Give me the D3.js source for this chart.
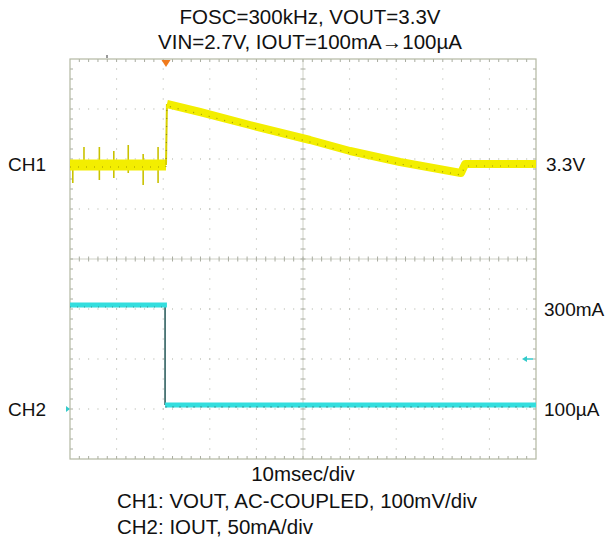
<!DOCTYPE html>
<html><head><meta charset="utf-8">
<script src="https://cdn.jsdelivr.net/npm/d3@7/dist/d3.min.js"></script>
<style>
html,body{margin:0;padding:0;background:#fff;}
svg{display:block;}
text{font-family:"Liberation Sans",Arial,sans-serif;fill:#111;}
</style></head>
<body>
<svg id="c" width="611" height="542"></svg>
<script>
// ---- data ----
const titleLines = ["FOSC=300kHz, VOUT=3.3V", "VIN=2.7V, IOUT=100mA\u2192100\u00B5A"];
const footerLines = ["CH1: VOUT, AC-COUPLED, 100mV/div", "CH2: IOUT, 50mA/div"];
const xAxisLabel = "10msec/div";
// CH1: VOUT (AC-coupled), mV vs time (ms)
const ch1Time = [0, 20.6, 20.8, 27.9, 38.6, 51.5, 60.1, 70.8, 81.5, 83.9, 84.8, 100];
const ch1mV   = [-2, -2, 120, 104, 78, 48, 26, 4, -14, -18, 0, 0];
// switching noise spikes on CH1 before the load step
const spikeTime = [0.6, 3.0, 6.3, 9.4, 12.5, 15.7, 18.9];
const spikeUp   = [0, 34, 34, 26, 38, 20, 34];
const spikeDown = [-38, -12, -32, -28, -18, -42, -38];
// CH2: IOUT, mA vs time (ms)
const ch2Time = [0, 20.4, 20.4, 100];
const ch2mA   = [104, 104, 4, 4];
// right-hand level labels
const ch1Labels = [{label:"3.3V", v:0}];
const ch2Labels = [{label:"300mA", v:100}, {label:"100\u00B5A", v:0}];

// ---- layout ----
const svg = d3.select("#c");
const X0 = 70, X1 = 536, Y0 = 59, Y1 = 459;
const xDivs = 10, yDivs = 8, minor = 5;
const x = d3.scaleLinear().domain([0, 100]).range([X0, X1]);
const divPx = (Y1 - Y0) / yDivs;
const yc = (Y0 + Y1) / 2;
// CH1: 100 mV/div, zero at +1.9 div above centre
const y1 = d3.scaleLinear().domain([0, 100]).range([yc - 1.9 * divPx, yc - 2.9 * divPx]);
// CH2: 50 mA/div, zero at -3 div
const y2 = d3.scaleLinear().domain([0, 50]).range([yc + 3 * divPx, yc + 2 * divPx]);

const g = svg.append("g");
const dxm = (X1 - X0) / xDivs / minor, dym = (Y1 - Y0) / yDivs / minor;
const gridCol = "#a9aca0";

// dotted grid lines
for (let i = 1; i < xDivs; i++) {
  if (i === xDivs / 2) continue;
  const xx = X0 + i * (X1 - X0) / xDivs;
  for (let k = 1; k < yDivs * minor; k++) {
    g.append("rect").attr("x", xx - 0.5).attr("y", Y0 + k * dym - 0.5).attr("width", 1).attr("height", 1).attr("fill", gridCol);
  }
}
for (let j = 1; j < yDivs; j++) {
  if (j === yDivs / 2) continue;
  const yy = Y0 + j * divPx;
  for (let k = 1; k < xDivs * minor; k++) {
    g.append("rect").attr("x", X0 + k * dxm - 0.5).attr("y", yy - 0.5).attr("width", 1).attr("height", 1).attr("fill", gridCol);
  }
}
// centre axes with ticks
const xm = (X0 + X1) / 2;
g.append("line").attr("x1", X0).attr("x2", X1).attr("y1", yc).attr("y2", yc).attr("stroke", "#cfd1c6").attr("stroke-width", 1);
g.append("line").attr("x1", xm).attr("x2", xm).attr("y1", Y0).attr("y2", Y1).attr("stroke", "#cfd1c6").attr("stroke-width", 1);
for (let k = 1; k < xDivs * minor; k++) {
  const xx = X0 + k * dxm;
  g.append("line").attr("x1", xx).attr("x2", xx).attr("y1", yc - 2.5).attr("y2", yc + 2.5).attr("stroke", gridCol);
  g.append("line").attr("x1", xx).attr("x2", xx).attr("y1", Y0).attr("y2", Y0 + 3).attr("stroke", gridCol);
  g.append("line").attr("x1", xx).attr("x2", xx).attr("y1", Y1 - 3).attr("y2", Y1).attr("stroke", gridCol);
}
for (let k = 1; k < yDivs * minor; k++) {
  const yy = Y0 + k * dym;
  g.append("line").attr("x1", xm - 2.5).attr("x2", xm + 2.5).attr("y1", yy).attr("y2", yy).attr("stroke", gridCol);
  g.append("line").attr("x1", X0).attr("x2", X0 + 3).attr("y1", yy).attr("y2", yy).attr("stroke", gridCol);
  g.append("line").attr("x1", X1 - 3).attr("x2", X1).attr("y1", yy).attr("y2", yy).attr("stroke", gridCol);
}
g.append("rect").attr("x", X0).attr("y", Y0).attr("width", X1 - X0).attr("height", Y1 - Y0)
  .attr("fill", "none").attr("stroke", "#b3b8a2").attr("stroke-width", 1.2);

// ---- CH1 trace ----
const ch1 = ch1Time.map((t, i) => [t, ch1mV[i]]);
const line1 = d3.line().x(d => x(d[0])).y(d => y1(d[1]));
spikeTime.forEach((t, i) => {
  g.append("line").attr("x1", x(t)).attr("x2", x(t)).attr("y1", y1(spikeUp[i])).attr("y2", y1(spikeDown[i]))
    .attr("stroke", "#c9c200").attr("stroke-width", 1.6);
});
const pre = ch1.filter(d => d[0] <= 20.6);
const post = ch1.filter(d => d[0] >= 20.8);
g.append("path").attr("d", line1(pre)).attr("fill", "none").attr("stroke", "#f3ee00").attr("stroke-width", 11);
g.append("path").attr("d", line1(ch1.slice(1, 3))).attr("fill", "none").attr("stroke", "#d8d000").attr("stroke-width", 2);
g.append("path").attr("d", line1(post)).attr("fill", "none").attr("stroke", "#f3ee00").attr("stroke-width", 8).attr("stroke-linejoin", "round");
g.append("path").attr("d", line1(ch1)).attr("fill", "none").attr("stroke", "#5e5a00").attr("stroke-width", 1.2)
  .attr("stroke-dasharray", "1,7").attr("opacity", 0.55).attr("transform", "translate(0,2)");

// ---- CH2 trace ----
const ch2 = ch2Time.map((t, i) => [t, ch2mA[i]]);
const line2 = d3.line().x(d => x(d[0])).y(d => y2(d[1]));
g.append("path").attr("d", line2(ch2.slice(1, 3))).attr("fill", "none").attr("stroke", "#2f5f5f").attr("stroke-width", 1.6);
g.append("path").attr("d", line2([ch2[0], [ch2[1][0] + 0.4, ch2[1][1]]])).attr("fill", "none").attr("stroke", "#33dede").attr("stroke-width", 5);
g.append("path").attr("d", line2(ch2.slice(2))).attr("fill", "none").attr("stroke", "#33dede").attr("stroke-width", 5);
g.append("path").attr("d", line2([ch2[0], ch2[1]])).attr("fill", "none").attr("stroke", "#2a6060").attr("stroke-width", 1)
  .attr("stroke-dasharray", "1,6").attr("opacity", 0.6).attr("transform", "translate(0,2)");
g.append("path").attr("d", line2(ch2.slice(2))).attr("fill", "none").attr("stroke", "#2a6060").attr("stroke-width", 1)
  .attr("stroke-dasharray", "2,5").attr("opacity", 0.6).attr("transform", "translate(0,2)");

// ---- markers ----
const trigX = x(ch1Time[1]);
g.append("path").attr("d", `M${trigX - 4.5},${Y0 + 1}L${trigX + 4.5},${Y0 + 1}L${trigX},${Y0 + 8}Z`).attr("fill", "#f07a1c");
const gnd2 = y2(0);
g.append("path").attr("d", `M${X0 - 4},${gnd2 - 3}L${X0},${gnd2}L${X0 - 4},${gnd2 + 3}Z`).attr("fill", "#33caca");
const arrY = y2(50);
g.append("line").attr("x1", X1 - 12).attr("x2", X1 - 3).attr("y1", arrY).attr("y2", arrY).attr("stroke", "#33caca").attr("stroke-width", 1.5);
g.append("path").attr("d", `M${X1 - 14},${arrY}L${X1 - 9},${arrY - 3}L${X1 - 9},${arrY + 3}Z`).attr("fill", "#33caca");
g.append("line").attr("x1", 107).attr("x2", 107).attr("y1", 55).attr("y2", 58).attr("stroke", "#333").attr("stroke-width", 1);

// ---- text ----
svg.selectAll("text.title").data(titleLines).enter().append("text")
  .attr("x", 310).attr("y", (d, i) => 24 + i * 25).attr("text-anchor", "middle").attr("font-size", 20.5).text(d => d);
svg.append("text").attr("x", xm).attr("y", 481).attr("text-anchor", "middle").attr("font-size", 20.5).text(xAxisLabel);
svg.selectAll("text.foot").data(footerLines).enter().append("text")
  .attr("x", 117).attr("y", (d, i) => 508 + i * 26).attr("font-size", 20.5).text(d => d);
svg.append("text").attr("x", 8).attr("y", y1(0) + 7).attr("font-size", 19).text("CH1");
svg.append("text").attr("x", 8).attr("y", y2(0) + 7).attr("font-size", 19).text("CH2");
ch1Labels.forEach(d => svg.append("text").attr("x", 546).attr("y", y1(d.v) + 7).attr("font-size", 19).text(d.label));
ch2Labels.forEach(d => svg.append("text").attr("x", 544).attr("y", y2(d.v) + 7).attr("font-size", 19).text(d.label));
</script>
</body></html>
